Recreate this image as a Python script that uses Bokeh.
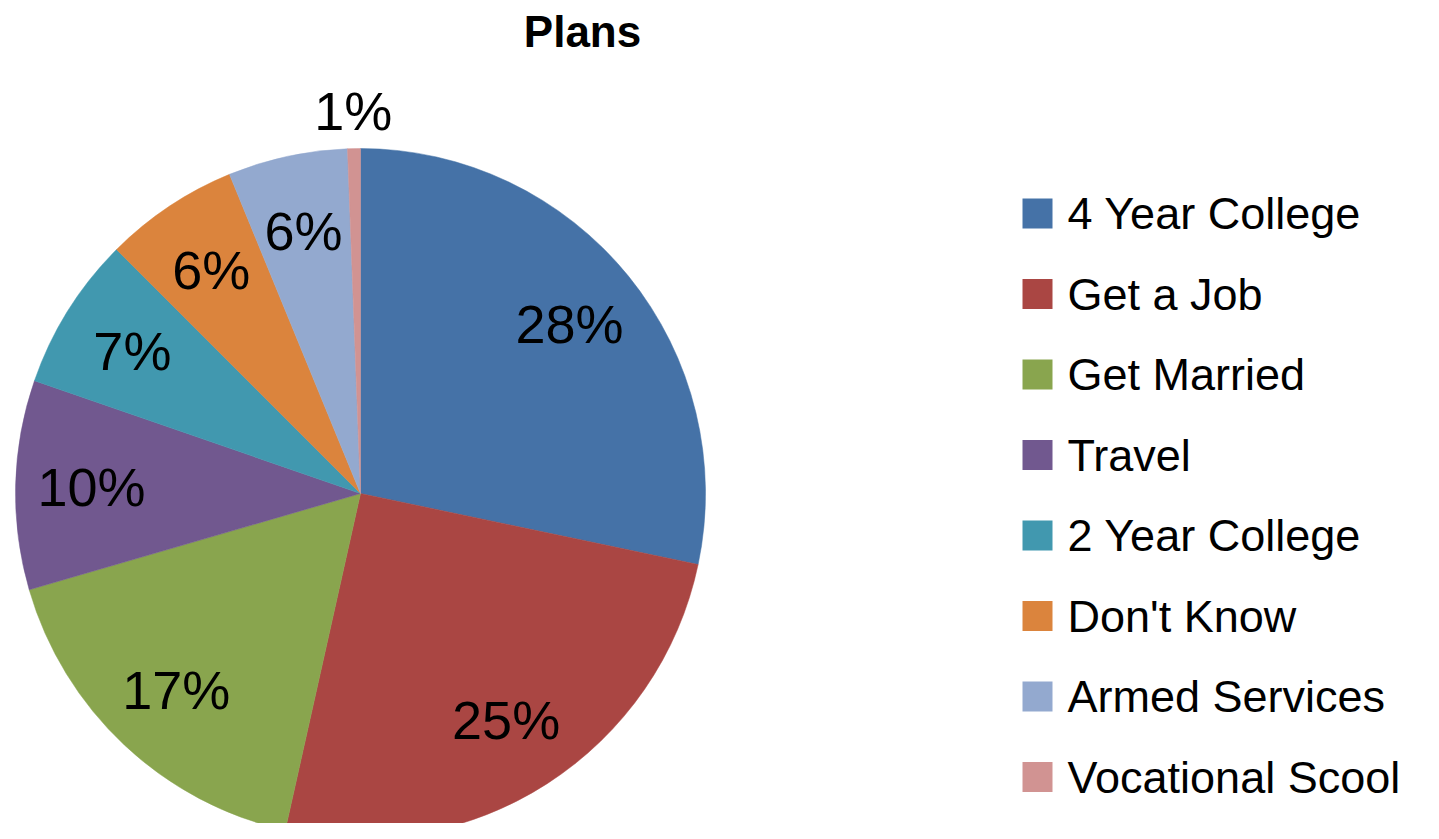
import math
from bokeh.plotting import figure
from bokeh.models import Range1d, ColumnDataSource
from bokeh.embed import file_html
from bokeh.resources import INLINE
from bokeh.core.properties import value

# ---- data ----
categories = ["4 Year College", "Get a Job", "Get Married", "Travel",
              "2 Year College", "Don't Know", "Armed Services", "Vocational Scool"]
shares = [28.3, 25.2, 17.0, 9.8, 7.2, 6.3, 5.6, 0.6]
colors = ["#4572A7", "#AA4643", "#89A54E", "#71588F",
          "#4198AF", "#DB843D", "#93A9CF", "#D19392"]
title_text = "Plans"

FONT = "Liberation Sans"
W, H = 1423, 823
PAGE_H = 839

def sy(y):  # screen y -> data y
    return PAGE_H - y

p = figure(width=W, height=H, x_range=Range1d(0, W), y_range=Range1d(PAGE_H - H, PAGE_H),
           output_backend="svg", toolbar_location=None, min_border=0,
           x_axis_location=None, y_axis_location=None)
p.grid.visible = False
p.outline_line_color = None
p.background_fill_color = "white"

cx, cy, R = 360, sy(493), 345
total = sum(shares)
starts, ends, lx, ly, labels = [], [], [], [], []
cum = 0.0
for s in shares:
    a_end = math.pi / 2 - 2 * math.pi * cum / total
    a_start = math.pi / 2 - 2 * math.pi * (cum + s) / total
    starts.append(a_start)
    ends.append(a_end)
    mid = (a_start + a_end) / 2
    r = R * 0.78 if s >= 2 else R + 38
    lx.append(cx + r * math.cos(mid))
    ly.append(cy + r * math.sin(mid))
    labels.append(f"{round(s)}%")
    cum += s

src = ColumnDataSource(dict(start=starts, end=ends, color=colors, cat=categories))
p.wedge(x=cx, y=cy, radius=R, start_angle="start", end_angle="end",
        direction="anticlock", fill_color="color", line_color="color",
        line_width=0.5, source=src)

p.text(x=lx, y=ly, text=labels, text_font=value(FONT), text_font_size="54px",
       text_align="center", text_baseline="middle", text_color="black")

# legend
ys = [sy(213 + i * 80.5) for i in range(len(categories))]
p.rect(x=[1037] * len(categories), y=ys, width=31, height=31,
       fill_color=colors, line_color="white", line_width=1)
p.text(x=[1067] * len(categories), y=ys, text=categories, text_font=value(FONT),
       text_font_size="45px", text_align="left", text_baseline="middle",
       text_color="black")

# title
p.text(x=[582], y=[sy(31)], text=[title_text], text_font=value(FONT),
       text_font_size="44px", text_font_style="bold", text_align="center",
       text_baseline="middle", text_color="black")

open("out.html", "w").write(file_html(p, INLINE))
